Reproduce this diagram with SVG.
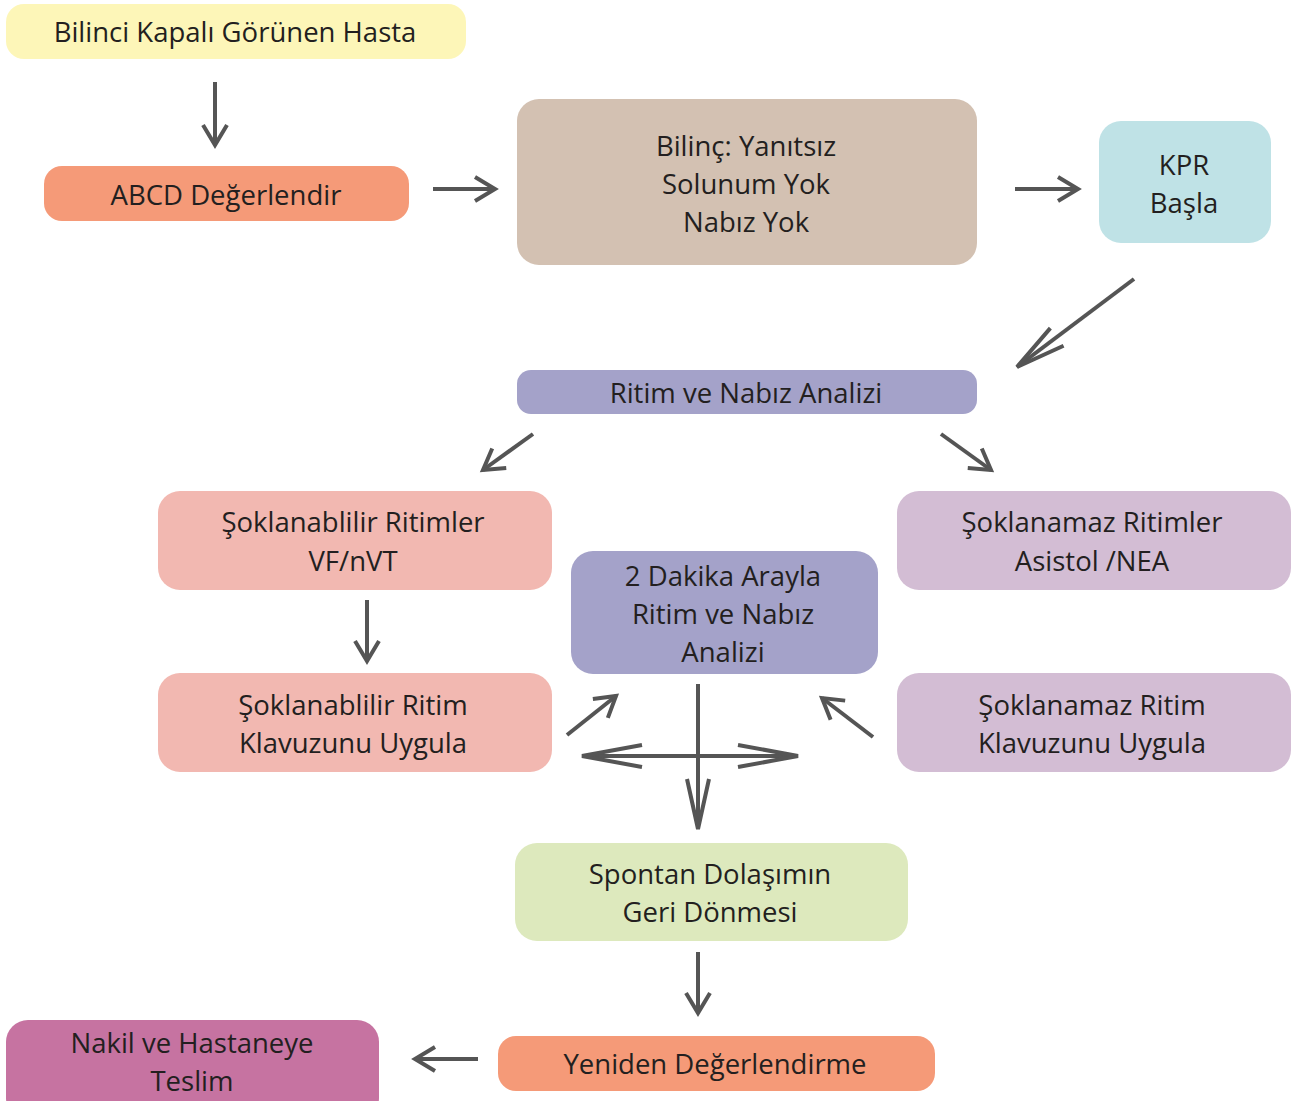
<svg xmlns="http://www.w3.org/2000/svg" width="1293" height="1101" viewBox="0 0 1293 1101">
  <defs>
    <style>
      .lbl { font-family: "Open Sans", "Liberation Sans", sans-serif; font-size: 27.5px; fill: #231f20; text-anchor: middle; }
      .edge { stroke: #555555; stroke-width: 4; fill: none; stroke-linecap: butt; }
      .head { stroke: #555555; stroke-width: 4; fill: none; stroke-linejoin: miter; }
    </style>
    <!-- open chevron heads, sized in user units -->
    <marker id="h" markerUnits="userSpaceOnUse" orient="auto" refX="0" refY="0" markerWidth="10" markerHeight="10" overflow="visible">
      <path class="head" d="M-20,-12 L0,0 L-20,12"/>
    </marker>
    <marker id="hLong" markerUnits="userSpaceOnUse" orient="auto" refX="0" refY="0" markerWidth="10" markerHeight="10" overflow="visible">
      <path class="head" d="M-50,-11 L0,0 L-50,11"/>
    </marker>
    <marker id="hCross" markerUnits="userSpaceOnUse" orient="auto" refX="0" refY="0" markerWidth="10" markerHeight="10" overflow="visible">
      <path class="head" d="M-60,-11 L0,0 L-60,11"/>
    </marker>
  </defs>

  <rect width="1293" height="1101" fill="#ffffff"/>

  <g id="connectors">
    <line class="edge" x1="215" y1="82" x2="215" y2="145" marker-end="url(#h)"/>
    <line class="edge" x1="433" y1="189" x2="495" y2="189" marker-end="url(#h)"/>
    <line class="edge" x1="1015" y1="189" x2="1078" y2="189" marker-end="url(#h)"/>
    <line class="edge" x1="1134" y1="279" x2="1017" y2="367" marker-end="url(#hLong)"/>
    <line class="edge" x1="533" y1="434" x2="483" y2="470" marker-end="url(#h)"/>
    <line class="edge" x1="941" y1="434" x2="991" y2="470" marker-end="url(#h)"/>
    <line class="edge" x1="367" y1="600" x2="367" y2="661" marker-end="url(#h)"/>
    <line class="edge" x1="567" y1="735" x2="616" y2="696" marker-end="url(#h)"/>
    <line class="edge" x1="873" y1="737" x2="822" y2="698" marker-end="url(#h)"/>
    <!-- crossing lines under the 2-minute analysis box -->
    <line class="edge" x1="690" y1="756" x2="582" y2="756" marker-end="url(#hCross)"/>
    <line class="edge" x1="690" y1="756" x2="798" y2="756" marker-end="url(#hCross)"/>
    <line class="edge" x1="698" y1="684" x2="698" y2="829" marker-end="url(#hLong)"/>
    <line class="edge" x1="698" y1="952" x2="698" y2="1013" marker-end="url(#h)"/>
    <line class="edge" x1="478" y1="1059" x2="415" y2="1059" marker-end="url(#h)"/>
  </g>

  <g id="n-hasta">
    <rect x="6" y="4" width="460" height="55" rx="18" fill="#fdf6b8"/>
    <text class="lbl" x="235" y="42">Bilinci Kapalı Görünen Hasta</text>
  </g>

  <g id="n-abcd">
    <rect x="44" y="166" width="365" height="55" rx="18" fill="#f59a78"/>
    <text class="lbl" x="226" y="205">ABCD Değerlendir</text>
  </g>

  <g id="n-bilinc">
    <rect x="517" y="99" width="460" height="166" rx="22" fill="#d3c1b2"/>
    <text class="lbl" x="746" y="156">Bilinç: Yanıtsız</text>
    <text class="lbl" x="746" y="194">Solunum Yok</text>
    <text class="lbl" x="746" y="232">Nabız Yok</text>
  </g>

  <g id="n-kpr">
    <rect x="1099" y="121" width="172" height="122" rx="22" fill="#bfe2e6"/>
    <text class="lbl" x="1184" y="175">KPR</text>
    <text class="lbl" x="1184" y="213">Başla</text>
  </g>

  <g id="n-ritim">
    <rect x="517" y="370" width="460" height="44" rx="14" fill="#a4a2c9"/>
    <text class="lbl" x="746" y="403">Ritim ve Nabız Analizi</text>
  </g>

  <g id="n-soklanabilir">
    <rect x="158" y="491" width="394" height="99" rx="22" fill="#f2b8b1"/>
    <text class="lbl" x="353" y="532">Şoklanablilir Ritimler</text>
    <text class="lbl" x="353" y="571">VF/nVT</text>
  </g>

  <g id="n-soklanamaz">
    <rect x="897" y="491" width="394" height="99" rx="22" fill="#d3bdd4"/>
    <text class="lbl" x="1092" y="532">Şoklanamaz Ritimler</text>
    <text class="lbl" x="1092" y="571">Asistol /NEA</text>
  </g>

  <g id="n-ikidakika">
    <rect x="571" y="551" width="307" height="123" rx="22" fill="#a4a2c9"/>
    <text class="lbl" x="723" y="586">2 Dakika Arayla</text>
    <text class="lbl" x="723" y="624">Ritim ve Nabız</text>
    <text class="lbl" x="723" y="662">Analizi</text>
  </g>

  <g id="n-soklanabilir-klavuz">
    <rect x="158" y="673" width="394" height="99" rx="22" fill="#f2b8b1"/>
    <text class="lbl" x="353" y="715">Şoklanablilir Ritim</text>
    <text class="lbl" x="353" y="753">Klavuzunu Uygula</text>
  </g>

  <g id="n-soklanamaz-klavuz">
    <rect x="897" y="673" width="394" height="99" rx="22" fill="#d3bdd4"/>
    <text class="lbl" x="1092" y="715">Şoklanamaz Ritim</text>
    <text class="lbl" x="1092" y="753">Klavuzunu Uygula</text>
  </g>

  <g id="n-spontan">
    <rect x="515" y="843" width="393" height="98" rx="22" fill="#dde9bd"/>
    <text class="lbl" x="710" y="884">Spontan Dolaşımın</text>
    <text class="lbl" x="710" y="922">Geri Dönmesi</text>
  </g>

  <g id="n-yeniden">
    <rect x="498" y="1036" width="437" height="55" rx="18" fill="#f59a78"/>
    <text class="lbl" x="715" y="1074">Yeniden Değerlendirme</text>
  </g>

  <g id="n-nakil">
    <rect x="6" y="1020" width="373" height="100" rx="22" fill="#c673a1"/>
    <text class="lbl" x="192" y="1053">Nakil ve Hastaneye</text>
    <text class="lbl" x="192" y="1091">Teslim</text>
  </g>
</svg>
